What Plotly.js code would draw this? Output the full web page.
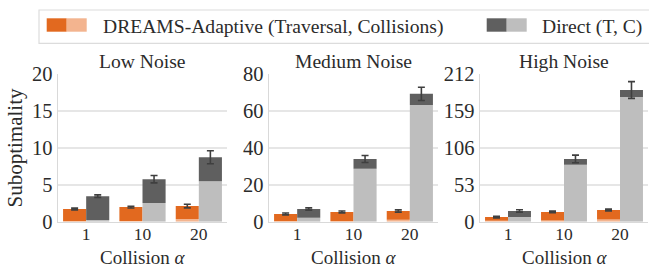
<!DOCTYPE html>
<html><head><meta charset="utf-8">
<script src="https://cdn.plot.ly/plotly-3.0.1.min.js"></script>
<style>html,body{margin:0;padding:0;background:#fff}#chart{width:649px;height:269px}</style>
</head><body><div id="chart"></div>
<script>
const categories = ["1", "10", "20"];
const panelTitles = ["Low Noise", "Medium Noise", "High Noise"];
const yMax = [20, 80, 212];
const yTicks = [[0, 5, 10, 15, 20], [0, 20, 40, 60, 80], [0, 53, 106, 159, 212]];
const legendLabels = ["DREAMS-Adaptive (Traversal, Collisions)", "Direct (T, C)"];
const xTitle = "Collision <i>α</i>";
const yTitle = "Suboptimality";

// DREAMS-Adaptive: collisions (bottom), traversal (top), error on total
const dreamsCollLow = [0.05, 0.08, 0.36];
const dreamsTravLow = [1.67, 1.90, 1.76];
const dreamsErrLow = [0.12, 0.12, 0.25];
const dreamsCollMed = [0.2, 0.3, 1.1];
const dreamsTravMed = [4.0, 5.0, 4.7];
const dreamsErrMed = [0.5, 0.5, 0.6];
const dreamsCollHigh = [1.5, 1.8, 3.0];
const dreamsTravHigh = [5.2, 12.2, 13.8];
const dreamsErrHigh = [1.2, 1.2, 1.3];

// Direct: collisions (bottom), traversal (top), error on total
const directCollLow = [0.23, 2.53, 5.5];
const directTravLow = [3.24, 3.24, 3.24];
const directErrLow = [0.17, 0.5, 0.88];
const directCollMed = [2.1, 28.8, 63.4];
const directTravMed = [4.8, 5.2, 6.0];
const directErrMed = [0.6, 1.9, 3.6];
const directCollHigh = [6.7, 82.0, 179.3];
const directTravHigh = [8.7, 8.2, 10.1];
const directErrHigh = [1.7, 5.5, 12.0];

const dreamsColl = [dreamsCollLow, dreamsCollMed, dreamsCollHigh];
const dreamsTrav = [dreamsTravLow, dreamsTravMed, dreamsTravHigh];
const dreamsErr = [dreamsErrLow, dreamsErrMed, dreamsErrHigh];
const directColl = [directCollLow, directCollMed, directCollHigh];
const directTrav = [directTravLow, directTravMed, directTravHigh];
const directErr = [directErrLow, directErrMed, directErrHigh];

const C = {
  orangeDark: "#E2691F", orangeLight: "#F3B48F",
  grayDark: "#5F5F5F", grayLight: "#BEBEBE",
  grid: "#E6E6E6", axis: "#D9D9D9", text: "#2B2B2B", err: "#3F3F3F"
};
const W = 649, H = 269;
const px = x => x / W, py = y => 1 - y / H;
const xDomains = [[58, 227], [269, 438], [480, 648]];
const yTop = 74.3, yBot = 221.7;
const FONT = "Liberation Serif, Times New Roman, serif";

const traces = [];
for (let i = 0; i < 3; i++) {
  const xa = i === 0 ? "x" : "x" + (i + 1);
  const ya = i === 0 ? "y" : "y" + (i + 1);
  const errStyle = arr => ({type: "data", array: arr, visible: true, color: C.err, thickness: 1.6, width: 3.5});
  traces.push({type: "bar", x: categories, y: dreamsColl[i], offsetgroup: "d", xaxis: xa, yaxis: ya,
    marker: {color: C.orangeLight, line: {width: 0}}, showlegend: false, hoverinfo: "skip"});
  traces.push({type: "bar", x: categories, y: dreamsTrav[i], base: dreamsColl[i], offsetgroup: "d", xaxis: xa, yaxis: ya,
    marker: {color: C.orangeDark, line: {width: 0}}, error_y: errStyle(dreamsErr[i]), showlegend: false, hoverinfo: "skip"});
  traces.push({type: "bar", x: categories, y: directColl[i], offsetgroup: "g", xaxis: xa, yaxis: ya,
    marker: {color: C.grayLight, line: {width: 0}}, showlegend: false, hoverinfo: "skip"});
  traces.push({type: "bar", x: categories, y: directTrav[i], base: directColl[i], offsetgroup: "g", xaxis: xa, yaxis: ya,
    marker: {color: C.grayDark, line: {width: 0}}, error_y: errStyle(directErr[i]), showlegend: false, hoverinfo: "skip"});
}

const layout = {
  width: W, height: H, margin: {l: 0, r: 0, t: 0, b: 0},
  paper_bgcolor: "#fff", plot_bgcolor: "#fff",
  font: {family: FONT, color: C.text, size: 20},
  barmode: "group", bargap: 0.18, bargroupgap: 0,
  showlegend: false, annotations: [], shapes: []
};
for (let i = 0; i < 3; i++) {
  const s = i === 0 ? "" : String(i + 1);
  const cx = px((xDomains[i][0] + xDomains[i][1]) / 2);
  layout["xaxis" + s] = {
    domain: [px(xDomains[i][0]), px(xDomains[i][1])], anchor: "y" + s,
    type: "category", showgrid: false, showline: true, linecolor: C.axis, linewidth: 1.5,
    ticks: "", tickfont: {size: 17.5}, fixedrange: true, ticklabelstandoff: -4
  };
  layout["yaxis" + s] = {
    domain: [py(yBot), py(yTop)], anchor: "x" + s,
    range: [0, yMax[i]], tickvals: yTicks[i], ticktext: yTicks[i].map(String),
    showgrid: true, gridcolor: C.grid, gridwidth: 1.5, zeroline: false,
    showline: true, linecolor: C.axis, linewidth: 1.5, ticks: "", tickfont: {size: 20.5}, fixedrange: true
  };
  layout.annotations.push({
    xref: "paper", yref: "paper", x: cx, y: py(yTop),
    xanchor: "center", yanchor: "bottom", yshift: 0, text: panelTitles[i], showarrow: false,
    font: {size: 19.6, family: FONT, color: C.text}
  });
  // x-axis title
  layout.annotations.push({
    xref: "paper", yref: "paper", x: cx, y: 0, xanchor: "center", yanchor: "bottom", yshift: 0,
    borderpad: 0, text: xTitle, showarrow: false, font: {size: 19, family: FONT, color: C.text}
  });
}
layout.yaxis.title = {text: yTitle, font: {size: 21}, standoff: 3};

// legend box drawn with shapes
layout.shapes.push({type: "rect", xref: "paper", yref: "paper", x0: px(39), x1: px(655), y0: py(43.3), y1: py(10),
  line: {color: "#DCDCDC", width: 1.2}, fillcolor: "rgba(255,255,255,0)"});
const sw = [[46.7, C.orangeDark, C.orangeLight], [486.7, C.grayDark, C.grayLight]];
sw.forEach(([x, c1, c2]) => {
  layout.shapes.push({type: "rect", xref: "paper", yref: "paper", x0: px(x), x1: px(x + 20), y0: py(31.7), y1: py(18.3), line: {width: 0}, fillcolor: c1});
  layout.shapes.push({type: "rect", xref: "paper", yref: "paper", x0: px(x + 20), x1: px(x + 40), y0: py(31.7), y1: py(18.3), line: {width: 0}, fillcolor: c2});
});
[[103, legendLabels[0]], [542, legendLabels[1]]].forEach(([x, t]) => {
  layout.annotations.push({xref: "paper", yref: "paper", x: px(x), y: py(26.5), xanchor: "left", yanchor: "middle",
    text: t, showarrow: false, font: {size: 19.6, family: FONT, color: C.text}, xshift: -2});
});

Plotly.newPlot("chart", traces, layout, {staticPlot: true, displayModeBar: false});
</script></body></html>
